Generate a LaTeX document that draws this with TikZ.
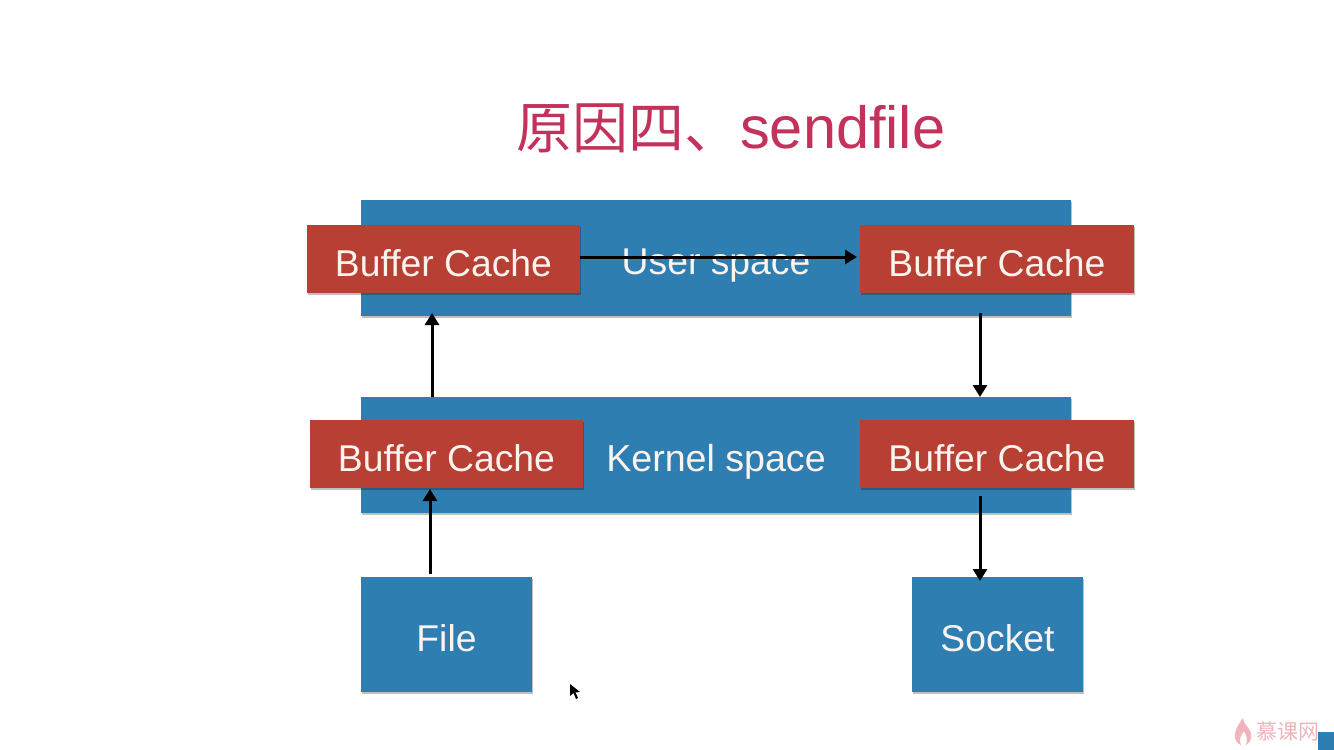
\documentclass[tikz,border=0pt]{standalone}
\usepackage{fontspec}
\setmainfont{Liberation Sans}
\newfontfamily\cjk{Noto Sans CJK SC}
\usetikzlibrary{arrows.meta,shadows}
\definecolor{bluebox}{HTML}{2F7EB2}
\definecolor{redbox}{HTML}{B83F33}
\definecolor{titlered}{HTML}{C2325A}
\definecolor{markpink}{HTML}{EFB4BC}
\definecolor{boxtext}{HTML}{FBF3EE}
\newcommand\lowtext[1]{\raisebox{-4pt}[\height][\depth]{#1}}
\tikzset{
  x=1pt,y=-1pt,
  boxbase/.style={anchor=north west,inner sep=0pt,outer sep=0pt,text=boxtext,font=\fontsize{37.3}{37.3}\selectfont,
    drop shadow={shadow xshift=1pt,shadow yshift=-2pt,fill=black,opacity=0.25}},
  bluefill/.style={boxbase,fill=bluebox},
  redfill/.style={boxbase,fill=redbox},
  conn/.style={draw=black,line width=3pt,-{Triangle[length=12pt,width=14pt]}},
}
\begin{document}
\begin{tikzpicture}
\useasboundingbox (0,0) rectangle (1334,750);
\fill[white] (0,0) rectangle (1334,750);
% title
\node[anchor=west,inner sep=0pt,text=titlered] (title) at (516,128)
  {\fontsize{56}{56}\selectfont{\cjk 原因四、}\fontsize{59.5}{59.5}\selectfont sendfile};
% bands
\node[bluefill,minimum width=710pt,minimum height=116pt] (user) at (361,200) {};
\node[bluefill,minimum width=710pt,minimum height=116pt] (kernel) at (361,397) {};
\node[text=boxtext,font=\fontsize{37.3}{37.3}\selectfont] (userlabel) at (716,266) {User space};
\node[text=boxtext,font=\fontsize{37.6}{37.6}\selectfont] (kernellabel) at (716,462) {Kernel space};
% buffers
\node[redfill,minimum width=273pt,minimum height=68pt] (b1) at (307,225) {\lowtext{Buffer Cache}};
\node[redfill,minimum width=274pt,minimum height=68pt] (b2) at (860,225) {\lowtext{Buffer Cache}};
\node[redfill,minimum width=273pt,minimum height=68pt] (b3) at (310,420) {\lowtext{Buffer Cache}};
\node[redfill,minimum width=274pt,minimum height=68pt] (b4) at (860,420) {\lowtext{Buffer Cache}};
% file and socket
\node[bluefill,minimum width=171pt,minimum height=115pt] (file) at (361,577) {\lowtext{File}};
\node[bluefill,minimum width=171pt,minimum height=115pt] (socket) at (912,577) {\lowtext{Socket}};
% connectors
\coordinate (c1) at (432,397);
\coordinate (c2) at (432,313);
\coordinate (c3) at (980,313);
\coordinate (c4) at (980,397);
\coordinate (c5) at (430,574);
\coordinate (c6) at (430,489);
\coordinate (c7) at (980,496);
\coordinate (c8) at (980,581);
\coordinate (c9) at (857,257);
\draw[conn] (c1) -- (c2);
\draw[conn] (c3) -- (c4);
\draw[conn] (c5) -- (c6);
\draw[conn] (c7) -- (c8);
\draw[conn] (b1.east |- c9) -- (c9);
% cursor
\fill[black] (570,684) -- (570,696) -- (573.5,693) -- (576,699) -- (578,698) -- (575.5,692.5) -- (580,692) -- cycle;
% watermark
\fill[markpink] (1241,745) .. controls (1232,741) and (1233,731) .. (1243,718) .. controls (1244,724) and (1247,726) .. (1249,729) .. controls (1253,734) and (1252,742) .. (1246,745) .. controls (1248,738) and (1246,735) .. (1244,731) .. controls (1240,736) and (1239,740) .. (1241,745) -- cycle;
\node[anchor=west,inner sep=0pt,text=markpink] (mark) at (1256,732) {\fontsize{21}{21}\selectfont\cjk 慕课网};
\fill[bluebox] (1318,732) rectangle (1334,750);
\end{tikzpicture}
\end{document}
